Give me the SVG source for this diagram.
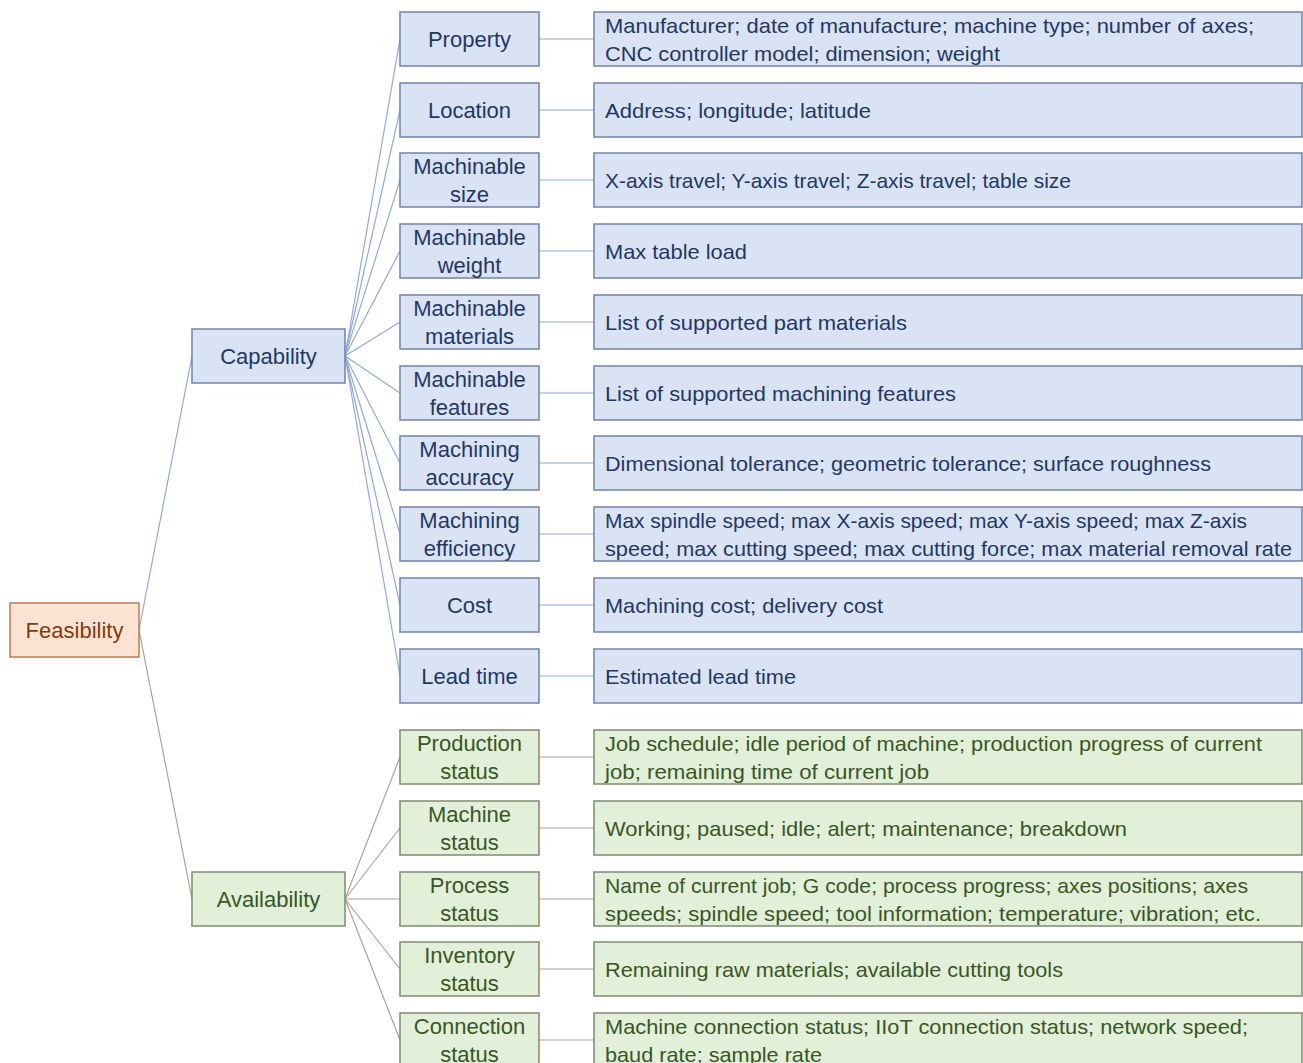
<svg xmlns="http://www.w3.org/2000/svg" width="1303" height="1063" viewBox="0 0 1303 1063">
  <style>
    text { font-family: "Liberation Sans", Arial, sans-serif; font-size: 22px; }
    .c { text-anchor: middle; }
    .d { font-size: 21px; }
    .cap rect { fill: #dae3f3; stroke: #6f82ab; stroke-width: 1.5; }
    .cap text { fill: #1f3864; }
    .ava rect { fill: #e2efd9; stroke: #7d8b6f; stroke-width: 1.5; }
    .ava text { fill: #385723; }
    .root rect { fill: #fbe3d3; stroke: #c07a50; stroke-width: 1.5; }
    .root text { fill: #843c0c; }
    .lb { stroke: #8faadc; stroke-width: 1.2; fill: none; }
    .lg { stroke: #a3a89c; stroke-width: 1.2; fill: none; }
  </style>

  <!-- connectors -->
  <g id="connectors">
    <line class="lb" x1="139" y1="630" x2="192" y2="356"/>
    <line class="lg" x1="139" y1="630" x2="192" y2="899"/>
    <!-- capability fan -->
    <line class="lb" x1="345" y1="356" x2="400" y2="39"/>
    <line class="lb" x1="345" y1="356" x2="400" y2="110"/>
    <line class="lb" x1="345" y1="356" x2="400" y2="180"/>
    <line class="lb" x1="345" y1="356" x2="400" y2="251"/>
    <line class="lb" x1="345" y1="356" x2="400" y2="322"/>
    <line class="lb" x1="345" y1="356" x2="400" y2="393"/>
    <line class="lb" x1="345" y1="356" x2="400" y2="463"/>
    <line class="lb" x1="345" y1="356" x2="400" y2="534"/>
    <line class="lb" x1="345" y1="356" x2="400" y2="605"/>
    <line class="lb" x1="345" y1="356" x2="400" y2="676"/>
    <!-- availability fan -->
    <line class="lg" x1="345" y1="899" x2="400" y2="757"/>
    <line class="lg" x1="345" y1="899" x2="400" y2="828"/>
    <line class="lg" x1="345" y1="899" x2="400" y2="899"/>
    <line class="lg" x1="345" y1="899" x2="400" y2="969"/>
    <line class="lg" x1="345" y1="899" x2="400" y2="1040"/>
    <!-- item to detail -->
    <line class="lb" x1="539" y1="39" x2="594" y2="39"/>
    <line class="lb" x1="539" y1="110" x2="594" y2="110"/>
    <line class="lb" x1="539" y1="180" x2="594" y2="180"/>
    <line class="lb" x1="539" y1="251" x2="594" y2="251"/>
    <line class="lb" x1="539" y1="322" x2="594" y2="322"/>
    <line class="lb" x1="539" y1="393" x2="594" y2="393"/>
    <line class="lb" x1="539" y1="463" x2="594" y2="463"/>
    <line class="lb" x1="539" y1="534" x2="594" y2="534"/>
    <line class="lb" x1="539" y1="605" x2="594" y2="605"/>
    <line class="lb" x1="539" y1="676" x2="594" y2="676"/>
    <line class="lg" x1="539" y1="757" x2="594" y2="757"/>
    <line class="lg" x1="539" y1="828" x2="594" y2="828"/>
    <line class="lg" x1="539" y1="899" x2="594" y2="899"/>
    <line class="lg" x1="539" y1="969" x2="594" y2="969"/>
    <line class="lg" x1="539" y1="1040" x2="594" y2="1040"/>
  </g>

  <!-- root and branches -->
  <g id="feasibility" class="root">
    <rect x="10" y="603" width="129" height="54"/>
    <text class="c" x="74.5" y="638">Feasibility</text>
  </g>
  <g id="capability" class="cap">
    <rect x="192" y="329" width="153" height="54"/>
    <text class="c" x="268.5" y="364">Capability</text>
  </g>
  <g id="availability" class="ava">
    <rect x="192" y="872" width="153" height="54"/>
    <text class="c" x="268.5" y="907">Availability</text>
  </g>

  <!-- capability items -->
  <g id="property" class="cap">
    <rect x="400" y="12" width="139" height="54"/>
    <text class="c" x="469.5" y="47">Property</text>
  </g>
  <g id="property-detail" class="cap">
    <rect x="594" y="12" width="708" height="54"/>
    <text class="d" x="605" y="33" textLength="649" lengthAdjust="spacingAndGlyphs">Manufacturer; date of manufacture; machine type; number of axes;</text>
    <text class="d" x="605" y="61" textLength="395" lengthAdjust="spacingAndGlyphs">CNC controller model; dimension; weight</text>
  </g>

  <g id="location" class="cap">
    <rect x="400" y="83" width="139" height="54"/>
    <text class="c" x="469.5" y="118">Location</text>
  </g>
  <g id="location-detail" class="cap">
    <rect x="594" y="83" width="708" height="54"/>
    <text class="d" x="605" y="118" textLength="266" lengthAdjust="spacingAndGlyphs">Address; longitude; latitude</text>
  </g>

  <g id="machinable-size" class="cap">
    <rect x="400" y="153" width="139" height="54"/>
    <text class="c" x="469.5" y="174">Machinable</text>
    <text class="c" x="469.5" y="202">size</text>
  </g>
  <g id="machinable-size-detail" class="cap">
    <rect x="594" y="153" width="708" height="54"/>
    <text class="d" x="605" y="188" textLength="466" lengthAdjust="spacingAndGlyphs">X-axis travel; Y-axis travel; Z-axis travel; table size</text>
  </g>

  <g id="machinable-weight" class="cap">
    <rect x="400" y="224" width="139" height="54"/>
    <text class="c" x="469.5" y="245">Machinable</text>
    <text class="c" x="469.5" y="273">weight</text>
  </g>
  <g id="machinable-weight-detail" class="cap">
    <rect x="594" y="224" width="708" height="54"/>
    <text class="d" x="605" y="259" textLength="142" lengthAdjust="spacingAndGlyphs">Max table load</text>
  </g>

  <g id="machinable-materials" class="cap">
    <rect x="400" y="295" width="139" height="54"/>
    <text class="c" x="469.5" y="316">Machinable</text>
    <text class="c" x="469.5" y="344">materials</text>
  </g>
  <g id="machinable-materials-detail" class="cap">
    <rect x="594" y="295" width="708" height="54"/>
    <text class="d" x="605" y="330" textLength="302" lengthAdjust="spacingAndGlyphs">List of supported part materials</text>
  </g>

  <g id="machinable-features" class="cap">
    <rect x="400" y="366" width="139" height="54"/>
    <text class="c" x="469.5" y="387">Machinable</text>
    <text class="c" x="469.5" y="415">features</text>
  </g>
  <g id="machinable-features-detail" class="cap">
    <rect x="594" y="366" width="708" height="54"/>
    <text class="d" x="605" y="401" textLength="351" lengthAdjust="spacingAndGlyphs">List of supported machining features</text>
  </g>

  <g id="machining-accuracy" class="cap">
    <rect x="400" y="436" width="139" height="54"/>
    <text class="c" x="469.5" y="457">Machining</text>
    <text class="c" x="469.5" y="485">accuracy</text>
  </g>
  <g id="machining-accuracy-detail" class="cap">
    <rect x="594" y="436" width="708" height="54"/>
    <text class="d" x="605" y="471" textLength="606" lengthAdjust="spacingAndGlyphs">Dimensional tolerance; geometric tolerance; surface roughness</text>
  </g>

  <g id="machining-efficiency" class="cap">
    <rect x="400" y="507" width="139" height="54"/>
    <text class="c" x="469.5" y="528">Machining</text>
    <text class="c" x="469.5" y="556">efficiency</text>
  </g>
  <g id="machining-efficiency-detail" class="cap">
    <rect x="594" y="507" width="708" height="54"/>
    <text class="d" x="605" y="528" textLength="642" lengthAdjust="spacingAndGlyphs">Max spindle speed; max X-axis speed; max Y-axis speed; max Z-axis</text>
    <text class="d" x="605" y="556" textLength="687" lengthAdjust="spacingAndGlyphs">speed; max cutting speed; max cutting force; max material removal rate</text>
  </g>

  <g id="cost" class="cap">
    <rect x="400" y="578" width="139" height="54"/>
    <text class="c" x="469.5" y="613">Cost</text>
  </g>
  <g id="cost-detail" class="cap">
    <rect x="594" y="578" width="708" height="54"/>
    <text class="d" x="605" y="613" textLength="278" lengthAdjust="spacingAndGlyphs">Machining cost; delivery cost</text>
  </g>

  <g id="lead-time" class="cap">
    <rect x="400" y="649" width="139" height="54"/>
    <text class="c" x="469.5" y="684">Lead time</text>
  </g>
  <g id="lead-time-detail" class="cap">
    <rect x="594" y="649" width="708" height="54"/>
    <text class="d" x="605" y="684" textLength="191" lengthAdjust="spacingAndGlyphs">Estimated lead time</text>
  </g>

  <!-- availability items -->
  <g id="production-status" class="ava">
    <rect x="400" y="730" width="139" height="54"/>
    <text class="c" x="469.5" y="751">Production</text>
    <text class="c" x="469.5" y="779">status</text>
  </g>
  <g id="production-status-detail" class="ava">
    <rect x="594" y="730" width="708" height="54"/>
    <text class="d" x="605" y="751" textLength="657" lengthAdjust="spacingAndGlyphs">Job schedule; idle period of machine; production progress of current</text>
    <text class="d" x="605" y="779" textLength="324" lengthAdjust="spacingAndGlyphs">job; remaining time of current job</text>
  </g>

  <g id="machine-status" class="ava">
    <rect x="400" y="801" width="139" height="54"/>
    <text class="c" x="469.5" y="822">Machine</text>
    <text class="c" x="469.5" y="850">status</text>
  </g>
  <g id="machine-status-detail" class="ava">
    <rect x="594" y="801" width="708" height="54"/>
    <text class="d" x="605" y="836" textLength="522" lengthAdjust="spacingAndGlyphs">Working; paused; idle; alert; maintenance; breakdown</text>
  </g>

  <g id="process-status" class="ava">
    <rect x="400" y="872" width="139" height="54"/>
    <text class="c" x="469.5" y="893">Process</text>
    <text class="c" x="469.5" y="921">status</text>
  </g>
  <g id="process-status-detail" class="ava">
    <rect x="594" y="872" width="708" height="54"/>
    <text class="d" x="605" y="893" textLength="643" lengthAdjust="spacingAndGlyphs">Name of current job; G code; process progress; axes positions; axes</text>
    <text class="d" x="605" y="921" textLength="656" lengthAdjust="spacingAndGlyphs">speeds; spindle speed; tool information; temperature; vibration; etc.</text>
  </g>

  <g id="inventory-status" class="ava">
    <rect x="400" y="942" width="139" height="54"/>
    <text class="c" x="469.5" y="963">Inventory</text>
    <text class="c" x="469.5" y="991">status</text>
  </g>
  <g id="inventory-status-detail" class="ava">
    <rect x="594" y="942" width="708" height="54"/>
    <text class="d" x="605" y="977" textLength="458" lengthAdjust="spacingAndGlyphs">Remaining raw materials; available cutting tools</text>
  </g>

  <g id="connection-status" class="ava">
    <rect x="400" y="1013" width="139" height="54"/>
    <text class="c" x="469.5" y="1034">Connection</text>
    <text class="c" x="469.5" y="1062">status</text>
  </g>
  <g id="connection-status-detail" class="ava">
    <rect x="594" y="1013" width="708" height="54"/>
    <text class="d" x="605" y="1034" textLength="643" lengthAdjust="spacingAndGlyphs">Machine connection status; IIoT connection status; network speed;</text>
    <text class="d" x="605" y="1062" textLength="217" lengthAdjust="spacingAndGlyphs">baud rate; sample rate</text>
  </g>
</svg>
